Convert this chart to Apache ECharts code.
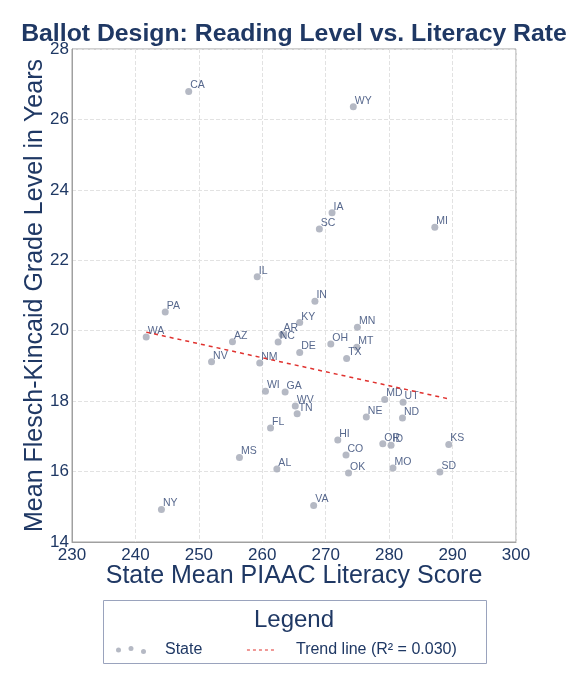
<!DOCTYPE html>
<html>
<head>
<meta charset="utf-8">
<script src="https://cdn.jsdelivr.net/npm/echarts@6/dist/echarts.min.js"></script>
<style>
  html, body { margin: 0; padding: 0; background: #fff; }
  #chart { width: 576px; height: 680px; }
</style>
</head>
<body>
<div id="chart"></div>
<script>
// state abbreviations, literacy score (x), reading grade level (y)
var states = ['CA', 'WY', 'IA', 'SC', 'MI', 'IL', 'IN', 'PA', 'KY', 'MN',
  'AR', 'WA', 'AZ', 'NC', 'OH', 'MT', 'DE', 'TX', 'NV', 'NM',
  'WI', 'GA', 'MD', 'UT', 'WV', 'TN', 'NE', 'ND', 'FL', 'HI',
  'OR', 'ID', 'KS', 'CO', 'MS', 'AL', 'MO', 'SD', 'OK', 'VA', 'NY'];
var literacy = [248.4, 274.35, 271.0, 269.0, 287.2, 259.2, 268.3, 244.7, 265.9, 275.0,
  263.1, 241.7, 255.3, 262.5, 270.8, 274.9, 265.9, 273.3, 252.0, 259.6,
  260.5, 263.6, 279.3, 282.2, 265.2, 265.5, 276.4, 282.1, 261.3, 271.9,
  279.0, 280.3, 289.4, 273.2, 256.4, 262.3, 280.6, 288.0, 273.6, 268.1, 244.1];
var gradeLevel = [26.79, 26.36, 23.35, 22.89, 22.94, 21.53, 20.84, 20.53, 20.23, 20.10,
  19.89, 19.82, 19.69, 19.68, 19.62, 19.53, 19.38, 19.21, 19.12, 19.08,
  18.28, 18.26, 18.05, 17.97, 17.86, 17.64, 17.55, 17.52, 17.24, 16.90,
  16.79, 16.75, 16.77, 16.47, 16.40, 16.07, 16.10, 15.99, 15.96, 15.04, 14.92];

// trend line end points
var trendX = [241.7, 289.5];
var trendY = [19.96, 18.06];

var xTicks = [230, 300, 10];
var yTicks = [14, 28, 2];

var navy = '#1f3864';
var red = '#e0322f';
var font = 'Liberation Sans, Arial, sans-serif';

var points = [];
for (var i = 0; i < states.length; i++) {
    points.push({ name: states[i], value: [literacy[i], gradeLevel[i]] });
}
var trend = [];
for (var j = 0; j < trendX.length; j++) {
    trend.push([trendX[j], trendY[j]]);
}

var chart = echarts.init(document.getElementById('chart'));
var option = {
    backgroundColor: '#fff',
    animation: false,
    textStyle: { fontFamily: font },
    title: [{
        text: 'Ballot Design: Reading Level vs. Literacy Rate',
        left: 289,
        textAlign: 'center',
        top: 17,
        textStyle: { color: navy, fontSize: 24.8, fontWeight: 'bold', fontFamily: font }
    }, {
        text: 'Legend',
        left: 289,
        textAlign: 'center',
        top: 603,
        textStyle: { color: navy, fontSize: 24, fontWeight: 'normal', fontFamily: font }
    }],
    graphic: [{
        type: 'rect',
        shape: { x: 103.5, y: 600.5, width: 383, height: 63 },
        style: { fill: 'none', stroke: '#9aa3bd', lineWidth: 1 }
    }],
    legend: {
        left: 111,
        top: 637,
        itemGap: 44,
        itemWidth: 30,
        itemHeight: 12,
        textStyle: { color: navy, fontSize: 16, fontFamily: font, padding: [0, 0, 0, 14] },
        data: [{
            name: 'State',
            icon: 'path://M0,6a2.4,2.4 0 1,0 4.8,0a2.4,2.4 0 1,0 -4.8,0M12,4.5a2.4,2.4 0 1,0 4.8,0a2.4,2.4 0 1,0 -4.8,0M24,7.5a2.4,2.4 0 1,0 4.8,0a2.4,2.4 0 1,0 -4.8,0',
            itemStyle: { color: '#a2a7b5' }
        }, {
            name: 'Trend line (R\u00b2 = 0.030)',
            itemStyle: { color: 'rgba(0,0,0,0)', borderWidth: 0 },
            lineStyle: { color: red, width: 1.2, type: [3, 3] }
        }]
    },
    grid: {
        left: 72,
        right: 60,
        top: 49,
        bottom: 138,
        show: true,
        borderColor: '#a0a0a0',
        borderWidth: 1
    },
    xAxis: {
        type: 'value',
        min: xTicks[0],
        max: xTicks[1],
        interval: xTicks[2],
        name: 'State Mean PIAAC Literacy Score',
        nameLocation: 'middle',
        nameGap: 22,
        nameMoveOverlap: false,
        nameTextStyle: { color: navy, fontSize: 25, fontFamily: font, verticalAlign: 'top' },
        axisLine: { lineStyle: { color: '#a0a0a0' } },
        axisTick: { show: false },
        axisLabel: { color: navy, fontSize: 17, margin: 5, fontFamily: font },
        splitLine: { lineStyle: { color: '#e2e2e2', type: 'dashed' } }
    },
    yAxis: {
        type: 'value',
        min: yTicks[0],
        max: yTicks[1],
        interval: yTicks[2],
        name: 'Mean Flesch-Kincaid Grade Level in Years',
        nameLocation: 'middle',
        nameGap: 24,
        nameMoveOverlap: false,
        nameTextStyle: { color: navy, fontSize: 25, fontFamily: font },
        axisLine: { lineStyle: { color: '#a0a0a0' } },
        axisTick: { show: false },
        axisLabel: { color: navy, fontSize: 17, margin: 3, fontFamily: font },
        splitLine: { lineStyle: { color: '#e2e2e2', type: 'dashed' } }
    },
    series: [{
        name: 'State',
        type: 'scatter',
        symbolSize: 7,
        itemStyle: { color: '#a2a7b5' },
        label: {
            show: true,
            position: 'right',
            distance: 0,
            offset: [-2, -6],
            formatter: '{b}',
            color: '#2d4270',
            fontSize: 10.5,
            fontFamily: font
        },
        data: points
    }, {
        name: 'Trend line (R\u00b2 = 0.030)',
        type: 'line',
        symbol: 'none',
        lineStyle: { color: red, width: 1.5, type: [4, 4] },
        itemStyle: { color: red },
        data: trend
    }]
};
chart.setOption(option);
</script>
</body>
</html>
